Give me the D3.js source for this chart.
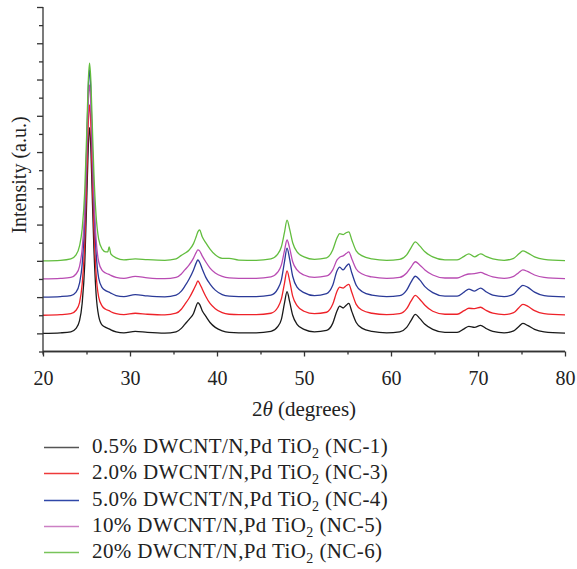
<!DOCTYPE html>
<meta charset="utf-8">
<style>
    body {
        margin:0;
        background:#fff;
    }
    svg text {
        font-family:'Liberation Serif', 'Times New Roman', serif;
        fill:#222;
    }
</style>
<body>
<script src="https://cdn.jsdelivr.net/npm/d3@7"></script>
<script>
var width = 577, height = 569;

// 2theta sample positions (degrees)
var twoTheta = [20, 22, 23.2, 23.8, 24.2, 24.5, 24.8, 25.05, 25.2, 25.35,
    25.5, 25.65, 25.85, 26.1, 26.4, 26.8, 27.2, 27.45, 27.6, 27.8,
    28.4, 29.3, 30.6, 32, 34, 35.3, 35.9, 36.3, 36.8, 37.3,
    37.6, 37.8, 38.0, 38.3, 38.7, 39.2, 39.8, 40.6, 41.4, 42.5,
    44.5, 46.2, 47.0, 47.4, 47.75, 48.05, 48.35, 48.7, 49.2, 50.0,
    51.2, 52.6, 53.3, 53.8, 54.1, 54.5, 54.85, 55.15, 55.5, 56.0,
    56.7, 57.8, 59.5, 61.0, 61.8, 62.3, 62.8, 63.3, 63.9, 64.8,
    66.2, 67.6, 68.4, 68.95, 69.6, 70.3, 70.9, 71.7, 73.0, 74.1,
    74.7, 75.15, 75.7, 76.5, 77.6, 80];

// intensities above each trace's own baseline (a.u.)
var nc1 = [0, 0.6, 1.7, 5.5, 14, 33, 77, 155, 204, 227,
    204, 155, 94, 44, 19, 9, 6.6, 5.5, 5, 3.9,
    1.7, 0.6, 2.2, 1.1, 0.3, 1.7, 5.5, 10, 15.5, 22,
    30, 34, 32, 25, 19, 12, 6.6, 2.8, 1.1, 0.6,
    0.6, 2.2, 7.7, 15.5, 33, 46, 35, 20, 10, 4.4,
    1.7, 3.3, 11, 25, 30, 28, 31, 33, 24, 12,
    5.5, 2.2, 0.6, 1.7, 6.6, 14, 21, 16.5, 10, 4.4,
    1.1, 1.1, 5, 7.7, 6.6, 8.8, 5.5, 2.2, 0.6, 2.8,
    7.7, 11, 8.8, 4.4, 1.7, 0.3];
var nc3 = [0, 0.6, 1.7, 5.5, 14, 34, 80, 160, 210, 232,
    210, 160, 97, 46, 20, 10, 6.6, 5.5, 5, 3.9,
    1.7, 0.6, 2.2, 1.1, 0.3, 2.2, 6.6, 12, 19, 28,
    34, 38, 35, 29, 21, 13, 7.2, 2.8, 1.1, 0.6,
    0.6, 2.2, 8.8, 18, 35, 49, 38, 21, 10.5, 4.4,
    1.7, 3.3, 12, 26.5, 31, 30, 32.5, 34, 25, 12,
    5.5, 2.2, 0.6, 1.7, 7.2, 15.5, 22, 17.7, 11, 4.4,
    1.1, 1.1, 5, 7.7, 7.2, 8.8, 5.5, 2.2, 0.6, 2.8,
    8.3, 12, 10, 5, 1.7, 0.3];
var nc4 = [0, 0.6, 1.7, 5.5, 15.5, 36, 86, 175, 229, 251,
    227, 171, 105, 50, 21, 10.5, 7.2, 6, 5.5, 4.4,
    1.7, 0.6, 2.8, 1.3, 0.3, 2.2, 6.6, 12, 20, 30,
    37.5, 41, 38.5, 31, 22, 14.4, 7.7, 2.8, 1.1, 0.6,
    0.6, 2.2, 9.4, 19, 38.5, 54, 42, 23, 11, 5,
    1.7, 3.9, 13, 29, 33, 30, 34, 36.5, 26.5, 13,
    6, 2.2, 0.6, 1.7, 7.7, 16.5, 23, 19, 11.6, 5,
    1.1, 1.1, 5.5, 8.8, 6.6, 10, 6, 2.2, 0.6, 3.3,
    9.4, 13, 11, 5.5, 1.7, 0.3];
var nc5 = [0, 0.6, 1.7, 5.5, 14, 33, 75, 149, 194, 214,
    194, 149, 91, 44, 19, 9.4, 6.6, 5.5, 5, 3.9,
    1.7, 0.6, 2.8, 1.3, 0.3, 1.7, 5.5, 10, 15.5, 23,
    29, 32, 31, 25.5, 19, 12, 6.6, 2.8, 1.1, 0.6,
    0.6, 2.2, 7.7, 15.5, 31, 43, 34, 19, 10, 4.4,
    1.7, 3.3, 10, 21, 24, 25.5, 28, 30, 22, 11,
    5.5, 2.2, 0.6, 1.7, 6.6, 13, 19, 15.5, 10, 4.4,
    1.1, 1.1, 3.9, 5.5, 5.9, 7.2, 5, 2.2, 0.6, 2.8,
    7.2, 10, 8.3, 4.4, 1.7, 0.3];
var nc6 = [0, 0.6, 2.2, 6.6, 16.5, 35, 77, 149, 197, 218,
    199, 155, 97, 50, 24, 13, 10, 10, 15.5, 7.7,
    3.3, 1.1, 2.2, 1.3, 0.6, 2.2, 6, 8.3, 12, 19,
    26.5, 32, 34, 26.5, 20, 13, 6.6, 2.8, 2.8, 0.9,
    0.6, 2.2, 7.7, 15.5, 31, 45, 35, 20, 10, 4.4,
    1.7, 3.3, 12, 25.5, 30, 29, 31, 32, 23, 11,
    5.5, 2.2, 0.6, 1.7, 6.6, 14.4, 21, 16.5, 10, 4.4,
    1.1, 1.1, 5, 7.7, 4.4, 7.7, 5, 2.2, 0.6, 2.8,
    7.7, 11, 8.8, 4.4, 1.7, 0.3];

var offsets = [20, 40, 60, 80, 100];
var labelHead = ['0.5% DWCNT/N,Pd TiO', '2.0% DWCNT/N,Pd TiO', '5.0% DWCNT/N,Pd TiO',
    '10% DWCNT/N,Pd TiO', '20% DWCNT/N,Pd TiO'];
var labelTail = [' (NC-1)', ' (NC-3)', ' (NC-4)', ' (NC-5)', ' (NC-6)'];
var colors = ['#1a1a1a', '#ee2229', '#2b3a98', '#b94cb3', '#62bd3e'];
var legendColors = ['#555555', '#ee3a3a', '#2f47a8', '#cc80c4', '#78c45a'];
var xTicks = [20, 30, 40, 50, 60, 70, 80];

var series = [nc1, nc3, nc4, nc5, nc6];

var x = d3.scaleLinear().domain([20, 80]).range([43, 565]);
var y = d3.scaleLinear().domain([0, 380]).range([351.5, 7]);

var svg = d3.select('body').append('svg')
    .attr('width', width)
    .attr('height', height);

// traces
var line = d3.line()
    .x(function(d) { return x(d[0]); })
    .y(function(d) { return y(d[1]); })
    .curve(d3.curveMonotoneX);

series.forEach(function(vals, i) {
    var pts = twoTheta.map(function(t, j) { return [t, vals[j] + offsets[i]]; });
    svg.append('path')
        .attr('d', line(pts))
        .attr('fill', 'none')
        .attr('stroke', colors[i])
        .attr('stroke-width', 1.3)
        .attr('stroke-linejoin', 'round');
});

// x axis
var xAxis = svg.append('g').attr('transform', 'translate(0,' + y(0) + ')');
xAxis.call(d3.axisBottom(x).tickValues(d3.range(25, 80, 10)).tickSize(3).tickFormat(''));
xAxis.append('g').call(d3.axisBottom(x).tickValues(xTicks).tickSize(5).tickPadding(14));
xAxis.selectAll('.domain').attr('stroke', '#333').attr('stroke-width', 1.3);
xAxis.selectAll('line').attr('stroke', '#333').attr('stroke-width', 1.3);
xAxis.selectAll('text')
    .style('font-family', "'Liberation Serif', serif")
    .style('font-size', '20px')
    .attr('fill', '#222');
xAxis.selectAll('.domain').attr('d', 'M' + x(20) + ',0H' + x(80));

// y axis
var yAxis = svg.append('g').attr('transform', 'translate(' + x(20) + ',0)');
yAxis.call(d3.axisLeft(y).tickValues(d3.range(0, 381, 40)).tickSize(4).tickFormat(''));
yAxis.append('g').call(d3.axisLeft(y).tickValues(d3.range(20, 381, 40)).tickSize(6).tickFormat(''));
yAxis.selectAll('.domain').attr('d', 'M0,' + y(380) + 'V' + (y(0) + 3))
    .attr('stroke', '#333').attr('stroke-width', 1.3);
yAxis.selectAll('line').attr('stroke', '#333').attr('stroke-width', 1.3);
yAxis.selectAll('g g .domain').remove();

// axis titles
var xTitle = svg.append('text')
    .attr('x', (x(20) + x(80)) / 2)
    .attr('y', 416)
    .attr('text-anchor', 'middle')
    .style('font-family', "'Liberation Serif', serif")
    .style('font-size', '21px');
xTitle.append('tspan').text('2');
xTitle.append('tspan').style('font-style', 'italic').text('\u03B8');
xTitle.append('tspan').text(' (degrees)');

svg.append('text')
    .attr('transform', 'translate(26,175) rotate(-90)')
    .attr('text-anchor', 'middle')
    .style('font-family', "'Liberation Serif', serif")
    .style('font-size', '20px')
    .text('Intensity (a.u.)');

// legend
var legend = svg.append('g');
labelHead.forEach(function(h, i) {
    var ly = Math.round(447 + i * 26.3);
    legend.append('line')
        .attr('x1', 44).attr('x2', 79)
        .attr('y1', ly + 0.5).attr('y2', ly + 0.5)
        .attr('stroke', legendColors[i])
        .attr('stroke-width', 1.4);
    var t = legend.append('text')
        .attr('x', 92)
        .attr('y', ly + 6)
        .style('font-family', "'Liberation Serif', serif")
        .style('font-size', '21px')
        .style('letter-spacing', '0.4px');
    t.append('tspan').text(h);
    t.append('tspan').attr('dy', 5).style('font-size', '14px').text('2');
    t.append('tspan').attr('dy', -5).text(labelTail[i]);
});
</script>
</body>
